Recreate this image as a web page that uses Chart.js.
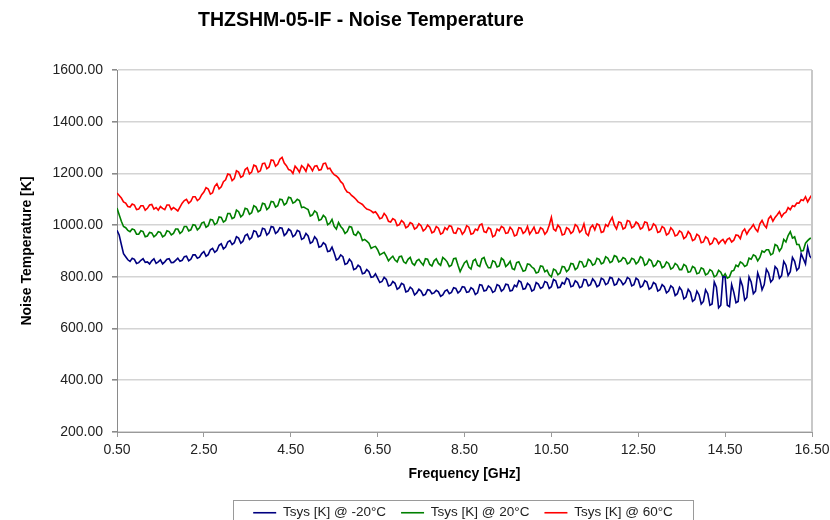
<!DOCTYPE html>
<html>
<head>
<meta charset="utf-8">
<script src="https://cdn.jsdelivr.net/npm/chart.js@4.4.1/dist/chart.umd.min.js"></script>
<style>
  html, body { margin: 0; padding: 0; background: #ffffff; }
  #wrap { position: relative; width: 830px; height: 520px; }
</style>
</head>
<body>
<div id="wrap"><canvas id="c" width="830" height="520"></canvas></div>
<script>
// ---- Data ----
const chartTitle = 'THZSHM-05-IF - Noise Temperature';
const xTitle = 'Frequency [GHz]';
const yTitle = 'Noise Temperature [K]';
const seriesNames = ['Tsys [K] @ -20°C', 'Tsys [K] @ 20°C', 'Tsys [K] @ 60°C'];

const freqGHz = [
  0.5,0.55,0.6,0.65,0.7,0.75,0.8,0.85,0.9,0.95,
  1.0,1.05,1.1,1.15,1.2,1.25,1.3,1.35,1.4,1.45,
  1.5,1.55,1.6,1.65,1.7,1.75,1.8,1.85,1.9,1.95,
  2.0,2.05,2.1,2.15,2.2,2.25,2.3,2.35,2.4,2.45,
  2.5,2.55,2.6,2.65,2.7,2.75,2.8,2.85,2.9,2.95,
  3.0,3.05,3.1,3.15,3.2,3.25,3.3,3.35,3.4,3.45,
  3.5,3.55,3.6,3.65,3.7,3.75,3.8,3.85,3.9,3.95,
  4.0,4.05,4.1,4.15,4.2,4.25,4.3,4.35,4.4,4.45,
  4.5,4.55,4.6,4.65,4.7,4.75,4.8,4.85,4.9,4.95,
  5.0,5.05,5.1,5.15,5.2,5.25,5.3,5.35,5.4,5.45,
  5.5,5.55,5.6,5.65,5.7,5.75,5.8,5.85,5.9,5.95,
  6.0,6.05,6.1,6.15,6.2,6.25,6.3,6.35,6.4,6.45,
  6.5,6.55,6.6,6.65,6.7,6.75,6.8,6.85,6.9,6.95,
  7.0,7.05,7.1,7.15,7.2,7.25,7.3,7.35,7.4,7.45,
  7.5,7.55,7.6,7.65,7.7,7.75,7.8,7.85,7.9,7.95,
  8.0,8.05,8.1,8.15,8.2,8.25,8.3,8.35,8.4,8.45,
  8.5,8.55,8.6,8.65,8.7,8.75,8.8,8.85,8.9,8.95,
  9.0,9.05,9.1,9.15,9.2,9.25,9.3,9.35,9.4,9.45,
  9.5,9.55,9.6,9.65,9.7,9.75,9.8,9.85,9.9,9.95,
  10.0,10.05,10.1,10.15,10.2,10.25,10.3,10.35,10.4,10.45,
  10.5,10.55,10.6,10.65,10.7,10.75,10.8,10.85,10.9,10.95,
  11.0,11.05,11.1,11.15,11.2,11.25,11.3,11.35,11.4,11.45,
  11.5,11.55,11.6,11.65,11.7,11.75,11.8,11.85,11.9,11.95,
  12.0,12.05,12.1,12.15,12.2,12.25,12.3,12.35,12.4,12.45,
  12.5,12.55,12.6,12.65,12.7,12.75,12.8,12.85,12.9,12.95,
  13.0,13.05,13.1,13.15,13.2,13.25,13.3,13.35,13.4,13.45,
  13.5,13.55,13.6,13.65,13.7,13.75,13.8,13.85,13.9,13.95,
  14.0,14.05,14.1,14.15,14.2,14.25,14.3,14.35,14.4,14.45,
  14.5,14.55,14.6,14.65,14.7,14.75,14.8,14.85,14.9,14.95,
  15.0,15.05,15.1,15.15,15.2,15.25,15.3,15.35,15.4,15.45,
  15.5,15.55,15.6,15.65,15.7,15.75,15.8,15.85,15.9,15.95,
  16.0,16.05,16.1,16.15,16.2,16.25,16.3,16.35,16.4,16.45,
  16.5
];

const tsysMinus20 = [
  980,962,925,890,878,866,860,872,868,852,
  855,864,870,856,858,850,862,870,852,858,
  866,850,858,868,870,855,856,864,872,860,
  864,878,880,862,868,885,885,872,876,890,
  898,880,886,905,910,895,902,922,928,908,
  915,935,940,925,932,955,950,930,938,960,
  965,945,952,978,975,955,960,988,985,962,
  970,995,992,968,975,990,988,960,968,985,
  978,955,962,980,975,945,950,968,958,930,
  935,955,945,915,918,932,925,898,900,915,
  892,865,870,885,878,848,852,868,858,828,
  832,845,838,812,815,828,820,798,800,812,
  795,778,782,798,790,765,768,782,775,752,
  758,775,770,742,745,760,752,730,738,752,
  745,728,732,750,748,735,738,748,742,725,
  730,745,750,735,740,758,755,738,745,762,
  760,740,742,758,752,732,738,770,768,745,
  748,765,758,740,745,770,765,745,752,772,
  770,745,748,768,762,785,780,752,755,775,
  768,745,750,778,772,755,760,782,778,755,
  762,790,785,758,760,778,772,795,790,762,
  765,785,778,758,762,790,788,765,770,792,
  782,762,768,795,790,770,775,798,795,768,
  772,792,785,770,778,798,792,765,770,795,
  788,760,765,785,780,752,758,778,772,745,
  750,770,762,738,745,765,758,728,735,760,
  748,715,722,752,740,705,712,745,730,695,
  705,750,735,690,695,780,760,680,690,800,
  800,690,685,770,740,700,705,790,765,710,
  720,800,780,735,745,815,790,750,770,830,
  815,780,790,840,830,795,805,860,845,805,
  820,875,860,825,835,890,870,850,915,880,
  870
];

const tsysPlus20 = [
  1066,1040,1015,995,990,980,975,985,982,965,
  965,978,975,955,958,972,970,955,962,975,
  972,955,960,978,975,962,968,985,985,968,
  975,995,995,978,982,1002,1000,982,990,1008,
  1012,992,998,1022,1020,1002,1008,1032,1030,1012,
  1018,1045,1045,1025,1030,1058,1052,1032,1040,1065,
  1062,1042,1048,1075,1070,1052,1058,1085,1082,1060,
  1068,1092,1090,1070,1075,1100,1098,1078,1085,1108,
  1105,1085,1090,1100,1095,1068,1070,1065,1060,1035,
  1040,1055,1048,1018,1022,1038,1030,1002,1008,1022,
  995,985,1010,995,985,968,975,995,992,965,
  960,975,965,940,945,938,930,910,915,918,
  905,885,890,895,880,862,872,880,865,858,
  878,880,858,852,868,875,852,845,862,868,
  855,845,870,868,848,842,862,870,852,845,
  875,868,858,840,845,870,872,845,820,838,
  855,862,838,830,862,868,845,840,870,875,
  850,835,835,862,858,838,842,872,865,840,
  848,860,832,828,855,858,840,822,825,850,
  848,838,832,815,818,842,840,820,826,808,
  800,830,825,808,815,840,838,820,828,852,
  850,828,835,860,858,838,842,868,862,845,
  850,872,868,850,855,878,872,855,860,882,
  878,858,862,875,870,850,855,872,868,850,
  858,878,872,845,850,868,862,840,845,862,
  858,835,840,858,852,830,835,852,845,828,
  828,848,842,818,820,840,835,812,815,835,
  830,808,812,828,822,800,805,825,818,800,
  812,795,800,822,825,845,840,858,852,840,
  845,872,868,885,880,862,875,900,895,905,
  905,885,890,925,920,900,912,945,935,960,
  975,950,955,925,925,900,902,930,940,948,
  950
];

const tsysPlus60 = [
  1124,1115,1105,1090,1085,1072,1070,1082,1078,1060,
  1062,1075,1075,1058,1065,1078,1080,1062,1068,1058,
  1072,1065,1060,1078,1078,1060,1068,1062,1055,1070,
  1085,1095,1100,1085,1092,1110,1110,1095,1102,1118,
  1128,1145,1140,1120,1125,1150,1160,1140,1148,1168,
  1175,1198,1195,1172,1180,1210,1205,1185,1190,1215,
  1222,1198,1205,1232,1228,1205,1210,1238,1240,1218,
  1225,1252,1250,1228,1235,1255,1262,1240,1230,1215,
  1212,1200,1228,1218,1205,1230,1222,1208,1235,1225,
  1210,1228,1230,1212,1215,1238,1240,1218,1220,1205,
  1195,1190,1182,1168,1160,1140,1128,1125,1115,1108,
  1100,1090,1085,1080,1070,1062,1060,1055,1048,1052,
  1040,1025,1028,1045,1035,1015,1012,1025,1020,998,
  1002,1018,1010,990,995,1010,1005,985,990,1005,
  998,978,985,1000,992,970,975,995,988,965,
  970,990,982,998,995,970,968,988,985,965,
  975,998,992,965,968,985,980,1000,1005,975,
  972,990,985,955,960,985,978,995,990,968,
  970,992,982,958,962,990,988,968,975,995,
  965,978,992,968,970,990,985,965,975,1000,
  1030,985,978,1000,990,962,965,990,985,968,
  975,1002,995,972,980,1005,968,960,990,1000,
  982,1005,1000,972,975,1002,995,1015,1030,1000,
  985,1012,1010,985,990,1018,1015,990,995,1012,
  1005,985,990,1012,1010,980,985,1005,998,972,
  975,995,988,962,968,990,980,958,962,978,
  972,948,955,975,965,940,945,965,958,932,
  935,955,948,925,930,950,945,928,938,945,
  930,945,950,935,942,962,960,948,975,985,
  965,980,990,1002,985,975,1005,1018,1000,990,
  1025,1035,1015,1030,1040,1052,1032,1045,1050,1068,
  1060,1075,1072,1085,1085,1098,1095,1110,1090,1105,
  1118
];

const seriesColors = ['#000080', '#008000', '#ff0000'];

// ---- Build datasets ----
function toPoints(values) {
  return values.map((v, i) => ({ x: freqGHz[i], y: v }));
}
const allSeries = [tsysMinus20, tsysPlus20, tsysPlus60];
const datasets = allSeries.map((vals, i) => ({
  label: seriesNames[i],
  data: toPoints(vals),
  borderColor: seriesColors[i],
  backgroundColor: seriesColors[i],
  borderWidth: 1.6,
  pointRadius: 0,
  pointHoverRadius: 0,
  tension: 0,
  fill: false,
  pointStyle: 'line'
}));

const FONT = '"Liberation Sans", Arial, Helvetica, sans-serif';

const framePlugin = {
  id: 'framePlugin',
  afterLayout(chart) {
    const t = chart.titleBlock;
    if (t) { t.left = 0; t.right = 722; t.width = 722; }
    const lg = chart.legend;
    if (lg) { lg.top = 491; lg.bottom = 530; lg.height = 39; lg.left = 233; lg.right = 693; lg.width = 460; }
  },
  afterDraw(chart) {
    const ctx = chart.ctx;
    const a = chart.chartArea;
    ctx.save();
    ctx.strokeStyle = '#c8c8c8';
    ctx.lineWidth = 2;
    ctx.beginPath();
    ctx.moveTo(a.right, a.top);
    ctx.lineTo(a.right, a.bottom);
    ctx.stroke();
    ctx.strokeStyle = '#9a9a9a';
    ctx.lineWidth = 1;
    ctx.strokeRect(233.5, 500.5, 460, 30);
    ctx.restore();
  }
};

new Chart(document.getElementById('c'), {
  type: 'line',
  data: { datasets },
  plugins: [framePlugin],
  options: {
    responsive: false,
    animation: false,
    devicePixelRatio: 1,
    layout: { padding: { left: 0, right: 18, top: 0, bottom: 27 } },
    plugins: {
      title: {
        display: true,
        text: chartTitle,
        color: '#000000',
        font: { family: FONT, size: 19.5, weight: 'bold' },
        padding: { top: 9.3, bottom: 37.3 }
      },
      legend: {
        display: true,
        position: 'bottom',
        maxHeight: 1,
        labels: {
          usePointStyle: true,
          pointStyleWidth: 23,
          boxWidth: 23,
          padding: 15,
          color: '#222222',
          font: { family: FONT, size: 13.5 }
        }
      },
      tooltip: { enabled: false }
    },
    scales: {
      x: {
        type: 'linear',
        position: 'bottom',
        min: 0.5,
        max: 16.5,
        afterFit(s) { s.height = 60; s.paddingRight = 0; },
        ticks: {
          stepSize: 2,
          padding: 5,
          maxRotation: 0,
          autoSkip: false,
          color: '#222222',
          font: { family: FONT, size: 14 },
          callback: v => Number(v).toFixed(2)
        },
        grid: {
          display: true,
          drawOnChartArea: false,
          drawTicks: true,
          tickLength: 5,
          color: '#9a9a9a',
          tickColor: '#9a9a9a'
        },
        border: { display: true, color: '#9a9a9a', width: 1 },
        title: {
          display: true,
          text: xTitle,
          color: '#000000',
          font: { family: FONT, size: 14, weight: 'bold' },
          padding: { top: 0, bottom: 9.6 }
        }
      },
      y: {
        type: 'linear',
        min: 200,
        max: 1600,
        afterFit(s) { s.width = 117; },
        ticks: {
          stepSize: 200,
          padding: 9,
          color: '#222222',
          font: { family: FONT, size: 14 },
          callback: v => Number(v).toFixed(2)
        },
        grid: {
          display: true,
          drawOnChartArea: true,
          drawTicks: true,
          tickLength: 5,
          color: '#d4d4d4',
          lineWidth: 1.6,
          tickColor: '#8a8a8a'
        },
        border: { display: true, color: '#8a8a8a', width: 1 },
        title: {
          display: true,
          text: yTitle,
          color: '#000000',
          font: { family: FONT, size: 14, weight: 'bold' },
          padding: { top: 19, bottom: 0 }
        }
      }
    }
  }
});
</script>
</body>
</html>
